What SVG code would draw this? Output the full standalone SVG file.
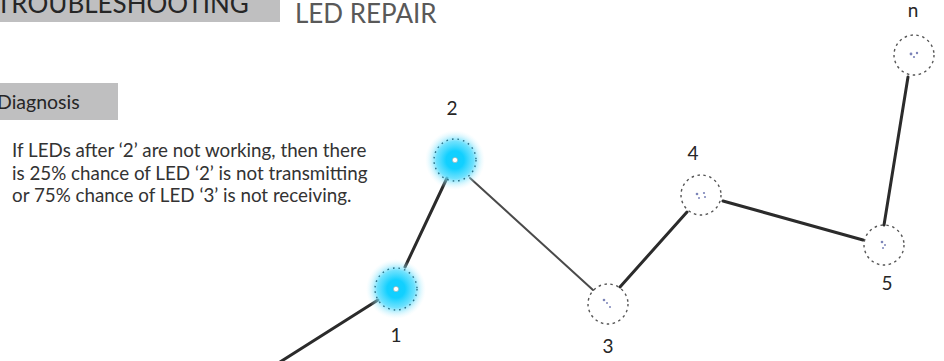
<svg xmlns="http://www.w3.org/2000/svg" width="944" height="361" viewBox="0 0 944 361">
  <defs>
    <style>
      .hdr { font-family: "Lato", "Open Sans", "Liberation Sans", sans-serif; }
      .title { font-size: 26px; fill: #262626; }
      .sub { font-size: 26px; fill: #595959; }
      .tag { font-size: 19.5px; fill: #262626; }
      .body { font-size: 18.8px; fill: #333333; }
      .num { font-family: "Lato", "Open Sans", "Liberation Sans", sans-serif; font-size: 19px; fill: #262626; text-anchor: middle; }
      .wire { stroke: #2b2b2b; stroke-width: 3; stroke-linecap: round; fill: none; }
      .wire.thin { stroke: #4a4a4a; stroke-width: 2; }
      .ring { fill: none; stroke: #555; stroke-width: 1.4; stroke-dasharray: 2.5 3.5; }
      .ring.lit { stroke: #2a6f86; stroke-dasharray: 1.6 4; }
      .mark { fill: #7c84b8; }
      .core { fill: #ffffff; stroke: #9aa; stroke-width: 0.6; }
    </style>
    <radialGradient id="glow" cx="0.5" cy="0.5" r="0.5">
      <stop offset="0" stop-color="#10cfff"/>
      <stop offset="0.3" stop-color="#12d0ff"/>
      <stop offset="0.62" stop-color="#55dcfd" stop-opacity="0.85"/>
      <stop offset="0.8" stop-color="#8fe6fc" stop-opacity="0.4"/>
      <stop offset="1" stop-color="#d4f5fe" stop-opacity="0"/>
    </radialGradient>
  </defs>

  <rect width="944" height="361" fill="#ffffff"/>

  <!-- headings -->
  <rect x="0" y="0" width="280" height="22" fill="#bfbfc0"/>
  <text class="hdr title" x="-4" y="13">TROUBLESHOOTING</text>
  <text class="hdr sub" x="295" y="23">LED REPAIR</text>

  <rect x="0" y="83" width="118" height="37" fill="#bfbfc0"/>
  <text class="hdr tag" x="-3" y="109">Diagnosis</text>

  <text class="hdr body">
    <tspan x="12" y="157">If LEDs after ‘2’ are not working, then there</tspan>
    <tspan x="12" y="180">is 25% chance of LED ‘2’ is not transmitting</tspan>
    <tspan x="12" y="202">or 75% chance of LED ‘3’ is not receiving.</tspan>
  </text>

  <!-- wiring between LEDs -->
  <g id="connectors">
    <line class="wire" x1="280" y1="362" x2="378" y2="300"/>
    <line class="wire" x1="405" y1="267" x2="447" y2="178"/>
    <line class="wire thin" x1="470" y1="178" x2="593" y2="290"/>
    <line class="wire" x1="620" y1="287" x2="687" y2="212"/>
    <line class="wire" x1="723" y1="201" x2="863" y2="240"/>
    <line class="wire" x1="884" y1="225" x2="908" y2="77"/>
  </g>

  <!-- lit LEDs -->
  <g id="led-1">
    <circle cx="396" cy="289" r="30" fill="url(#glow)"/>
    <circle class="ring lit" cx="396" cy="289" r="21"/>
    <circle class="core" cx="396" cy="289" r="2.6"/>
    <text class="num" x="396" y="342">1</text>
  </g>
  <g id="led-2">
    <circle cx="455" cy="160" r="30" fill="url(#glow)"/>
    <circle class="ring lit" cx="455" cy="160" r="21"/>
    <circle class="core" cx="455" cy="160" r="2.6"/>
    <text class="num" x="452" y="115">2</text>
  </g>

  <!-- dark LEDs -->
  <g id="led-3">
    <circle class="ring" cx="608" cy="304" r="20"/>
    <circle class="mark" cx="604" cy="300" r="1.3"/>
    <circle class="mark" cx="607" cy="303" r="1"/>
    <circle class="mark" cx="610" cy="307" r="1"/>
    <text class="num" x="608" y="353">3</text>
  </g>
  <g id="led-4">
    <circle class="ring" cx="701" cy="195" r="20"/>
    <circle class="mark" cx="697" cy="194" r="1.3"/>
    <circle class="mark" cx="699" cy="198" r="1"/>
    <circle class="mark" cx="704" cy="193" r="1.1"/>
    <circle class="mark" cx="705" cy="197" r="1"/>
    <text class="num" x="693" y="160">4</text>
  </g>
  <g id="led-5">
    <circle class="ring" cx="884" cy="245" r="20"/>
    <circle class="mark" cx="882" cy="242" r="1.3"/>
    <circle class="mark" cx="885" cy="245" r="1"/>
    <circle class="mark" cx="883" cy="248" r="1"/>
    <text class="num" x="887" y="290">5</text>
  </g>
  <g id="led-n">
    <circle class="ring" cx="914" cy="55" r="20"/>
    <circle class="mark" cx="911" cy="54" r="1.4"/>
    <circle class="mark" cx="914" cy="57" r="1.1"/>
    <circle class="mark" cx="917" cy="53" r="1.2"/>
    <text class="num" x="913" y="17">n</text>
  </g>
</svg>
